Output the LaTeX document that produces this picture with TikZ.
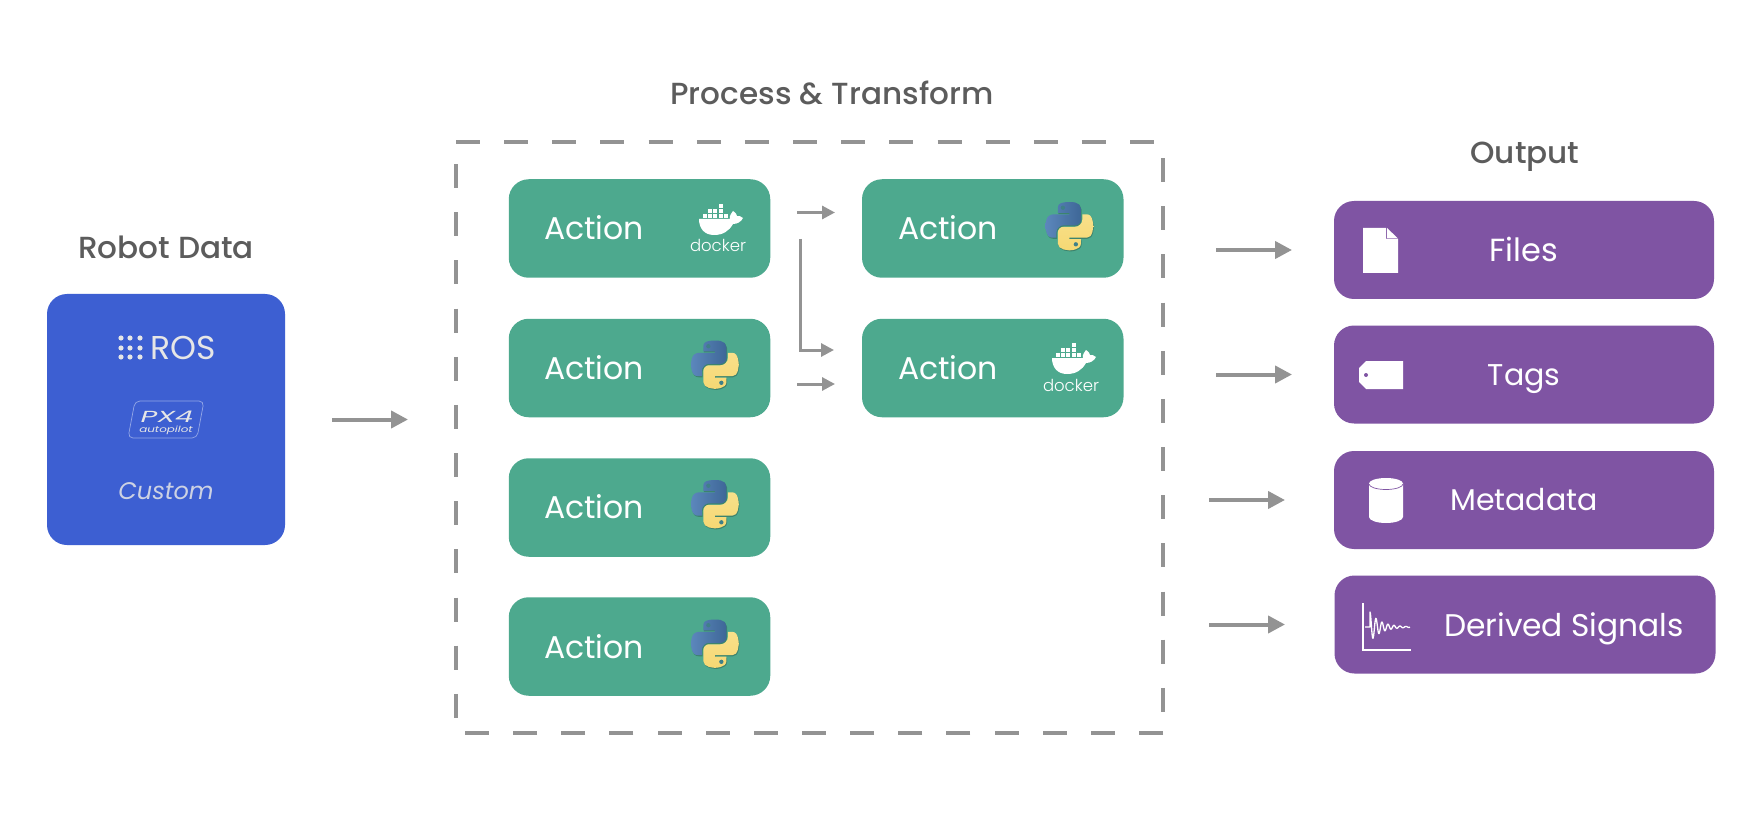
\documentclass[tikz,border=0pt]{standalone}
\usepackage{fontspec}
\usetikzlibrary{arrows.meta,calc,svg.path}
\setmainfont{Poppins}
\newfontfamily\titlefont{Poppins Medium}
\newfontfamily\lightfont{Poppins Light}
\definecolor{boxblue}{HTML}{3D5FD2}
\definecolor{boxgreen}{HTML}{4DA98E}
\definecolor{boxpurple}{HTML}{7F54A3}
\definecolor{linegray}{HTML}{939393}
\definecolor{titlegray}{HTML}{5C5C5C}
\definecolor{softwhite}{HTML}{E6E6E6}
\definecolor{pyblueA}{HTML}{5C87BC}
\definecolor{pyblueB}{HTML}{3E6797}
\definecolor{pyyelA}{HTML}{F6D873}
\definecolor{pyyelB}{HTML}{F8E08A}
\definecolor{pyeye}{HTML}{3F8088}
\tikzset{
  x=1pt,y=-1pt,
  panel/.style={rounded corners=20pt,inner sep=0pt,outer sep=0pt,minimum width=#1},
  actionbox/.style={panel=261.5pt,fill=boxgreen,minimum height=98.5pt},
  outbox/.style={panel=380pt,fill=boxpurple,minimum height=98pt},
  tlabel/.style={anchor=base,inner sep=0pt,text=white,font=\fontsize{30}{30}\selectfont},
  alabel/.style={anchor=base,inner sep=0pt,text=white,font=\fontsize{31.5}{32}\selectfont},
  head/.style={anchor=base,inner sep=0pt,text=titlegray,xscale=1.02,font=\fontsize{30.5}{31}\selectfont\titlefont},
  bigarrow/.style={draw=linegray,line width=4pt,-{Triangle[length=17pt,width=17pt]}},
  smallarrow/.style={draw=linegray,line width=3pt,-{Triangle[length=13pt,width=13pt]}},
  dashside/.style={draw=linegray,line width=4pt,dash pattern=on 24pt off 24.15pt,dash phase=#1},
  pylogo/.pic={
    \begin{scope}[yscale=-1]
      \fill[black,opacity=.22,shift={(1.5,-2.5)}] svg "M 54.92 0 C 50.34 0.02 45.96 0.41 42.11 1.09 30.76 3.1 28.7 7.29 28.7 15.03 v 10.22 h 26.81 v 3.41 h -26.81 -10.06 c -7.79 0 -14.62 4.68 -16.75 13.59 -2.46 10.21 -2.57 16.59 0 27.25 1.91 7.94 6.46 13.59 14.25 13.59 h 9.22 v -12.25 c 0 -8.85 7.66 -16.66 16.75 -16.66 h 26.78 c 7.45 0 13.41 -6.14 13.41 -13.63 v -25.53 c 0 -7.27 -6.13 -12.72 -13.41 -13.94 C 64.28 0.33 59.5 -0.02 54.92 0 Z";
      \fill[black,opacity=.22,shift={(1.5,-2.5)}] svg "M 85.64 28.66 v 11.91 c 0 9.23 -7.83 17 -16.75 17 h -26.78 c -7.34 0 -13.41 6.28 -13.41 13.63 v 25.53 c 0 7.27 6.32 11.54 13.41 13.63 8.49 2.5 16.63 2.95 26.78 0 6.75 -1.95 13.41 -5.89 13.41 -13.63 v -10.22 h -26.78 v -3.41 h 26.78 13.41 c 7.79 0 10.7 -5.44 13.41 -13.59 2.8 -8.4 2.68 -16.48 0 -27.25 -1.93 -7.76 -5.6 -13.59 -13.41 -13.59 Z";
      \path[left color=pyblueA,right color=pyblueB] svg "M 54.92 0 C 50.34 0.02 45.96 0.41 42.11 1.09 30.76 3.1 28.7 7.29 28.7 15.03 v 10.22 h 26.81 v 3.41 h -26.81 -10.06 c -7.79 0 -14.62 4.68 -16.75 13.59 -2.46 10.21 -2.57 16.59 0 27.25 1.91 7.94 6.46 13.59 14.25 13.59 h 9.22 v -12.25 c 0 -8.85 7.66 -16.66 16.75 -16.66 h 26.78 c 7.45 0 13.41 -6.14 13.41 -13.63 v -25.53 c 0 -7.27 -6.13 -12.72 -13.41 -13.94 C 64.28 0.33 59.5 -0.02 54.92 0 Z";
      \path[top color=pyyelB,bottom color=pyyelA] svg "M 85.64 28.66 v 11.91 c 0 9.23 -7.83 17 -16.75 17 h -26.78 c -7.34 0 -13.41 6.28 -13.41 13.63 v 25.53 c 0 7.27 6.32 11.54 13.41 13.63 8.49 2.5 16.63 2.95 26.78 0 6.75 -1.95 13.41 -5.89 13.41 -13.63 v -10.22 h -26.78 v -3.41 h 26.78 13.41 c 7.79 0 10.7 -5.44 13.41 -13.59 2.8 -8.4 2.68 -16.48 0 -27.25 -1.93 -7.76 -5.6 -13.59 -13.41 -13.59 Z";
      \fill[pyeye] (40.42pt,13.34pt) circle[radius=5.03pt];
      \fill[pyeye] (70.57pt,98.4pt) circle[radius=5.03pt];
    \end{scope}
  },
  dockerlogo/.pic={
    \foreach \bx/\by in {19/0, 8/5,13/5,19/5, 3/10,8/10,13/10,19/10,24/10}
      \fill[white] (\bx,\by) rectangle ++(4.2,4.2);
    \fill[white] (-1,15) -- (30,15) .. controls (29,11) and (32,9) .. (33,7) .. controls (36,9) and (37,11) .. (37,12) .. controls (39,11.5) and (41,12.5) .. (43,14) .. controls (41,18) and (37,20) .. (33,20) .. controls (29,27) and (23,31) .. (14,31) .. controls (4,31) and (-1,24) .. (-1,15) -- cycle;
    \node[anchor=base,inner sep=0pt,text=white,font=\fontsize{16.5}{17}\selectfont\lightfont] (word) at (18,48) {docker};
  }
}
\begin{document}
\begin{tikzpicture}
\useasboundingbox (0,0) rectangle (1764,834);
\fill[white] (0,0) rectangle (1764,834);
% titles
\node[head] (trobot) at (166,259) {Robot Data};
\node[head] (tproc) at (832,104.5) {Process \& Transform};
\node[head] (tout) at (1525,164) {Output};
% robot panel
\node[panel=238pt,fill=boxblue,minimum height=251pt] (robot) at (166,419.5) {};
\foreach \dx in {121,130,140} \foreach \dy in {338,348,357}
  \fill[softwhite] (\dx,\dy) circle[radius=2.6pt];
\node[anchor=base,inner sep=0pt,text=softwhite,font=\fontsize{33}{33}\selectfont] (ros) at (183,359) {ROS};
\draw[draw=boxblue!55!white,line width=.7pt,rounded corners=5pt] (135,401) -- (204,401) -- (197,438) -- (128,438) -- cycle;
\node[anchor=base,inner sep=0pt,text=softwhite,xscale=1.8,font=\fontsize{16}{16}\selectfont\itshape] (pxfour) at (167,422) {PX4};
\node[anchor=base,inner sep=0pt,text=softwhite,xscale=1.4,font=\fontsize{8.5}{9}\selectfont\itshape] (autop) at (166,432) {autopilot};
\node[anchor=base,inner sep=0pt,text=softwhite!85!boxblue,font=\fontsize{24}{24}\selectfont\itshape] (custom) at (166,499) {Custom};
% dashed frame
\node[inner sep=0pt,outer sep=0pt,minimum width=707pt,minimum height=591pt] (frame) at (809.5,437.5) {};
\draw[dashside=0pt] (frame.north west) -- (frame.north east);
\draw[dashside=32pt] (frame.north east) -- (frame.south east);
\draw[dashside=0pt] (frame.south east) -- (frame.south west);
\draw[dashside=26pt] (frame.north west) -- (frame.south west);
% actions
\node[actionbox] (a1) at (639.5,228.5) {};
\node[actionbox] (a2) at (639.5,368) {};
\node[actionbox] (a3) at (639.5,507.5) {};
\node[actionbox] (a4) at (639.5,646.5) {};
\node[actionbox] (b1) at (992.75,228.5) {};
\node[actionbox] (b2) at (992.75,368) {};
\node[alabel] (la1) at (594,240) {Action};
\node[alabel] (la2) at (594,379) {Action};
\node[alabel] (la3) at (594,518) {Action};
\node[alabel] (la4) at (594,658) {Action};
\node[alabel] (lb1) at (948,240) {Action};
\node[alabel] (lb2) at (948,379) {Action};
\pic[scale=.43] at (691,340.5) {pylogo};
\pic[scale=.43] at (691,480) {pylogo};
\pic[scale=.43] at (691,619.5) {pylogo};
\pic[scale=.43] at (1045.5,202) {pylogo};
\pic (dockerA) at (700,204) {dockerlogo};
\pic (dockerB) at (1053,343) {dockerlogo};
% outputs
\node[outbox] (files) at (1524,250) {};
\node[outbox] (tags) at (1524,374.5) {};
\node[outbox] (meta) at (1524,500) {};
\node[outbox,minimum width=381pt] (sig) at (1525,624.5) {};
\node[tlabel,font=\fontsize{32}{32}\selectfont] (lf) at (1524,262) {Files};
\node[tlabel] (lt) at (1524,385) {Tags};
\node[tlabel] (lm) at (1524,510) {Metadata};
\node[tlabel,font=\fontsize{31.3}{32}\selectfont] (ls) at (1564,636) {Derived Signals};
% icons
\fill[white] (1363,228) -- (1386,228) -- (1386,239) -- (1398,239) -- (1398,273) -- (1363,273) -- cycle;
\fill[white] (1387,228) -- (1398,238.5) -- (1387,238.5) -- cycle;
\fill[white] (1366,361) -- (1403,361) -- (1403,389) -- (1366,389) -- (1359,382) -- (1359,368) -- cycle;
\fill[boxpurple] (1366,375) circle[radius=2pt];
\fill[white] (1369,483.5) -- (1369,517) arc[start angle=180,end angle=360,x radius=17,y radius=-6] -- (1403,483.5) -- cycle;
\fill[white] (1386,483.5) ellipse[x radius=17,y radius=5.5];
\draw[boxpurple,line width=.7pt] (1369,484) arc[start angle=180,end angle=360,x radius=17,y radius=-5.5];
\draw[white,line width=1.4pt] (1363,603) -- (1363,650) -- (1411,650);
\draw[white,line width=1.3pt,line join=round] (1365,627) -- (1370,627) -- plot[smooth,samples=90,domain=0:40] ({1370+\x},{627-15*exp(-\x/11)*cos(deg(\x*2*pi/6))});
% connectors
\draw[bigarrow,shorten <=47pt,shorten >=48pt] (robot.east) -- (robot.east -| frame.west);
\draw[smallarrow,shorten <=27pt,shorten >=27pt] ($(a1.east)+(0,-16)$) -- ($(b1.west)+(0,-16)$);
\draw[smallarrow,shorten <=27pt,shorten >=27pt] ($(a2.east)+(0,16)$) -- ($(b2.west)+(0,16)$);
\coordinate (elbow) at (800,239);
\draw[smallarrow,shorten >=28pt] (elbow) |- ($(b2.west)+(0,-18)$);
\draw[bigarrow,shorten <=53pt,shorten >=42pt] (files.west -| frame.east) -- (files.west);
\draw[bigarrow,shorten <=53pt,shorten >=42pt] (tags.west -| frame.east) -- (tags.west);
\draw[bigarrow,shorten <=46pt,shorten >=49pt] (meta.west -| frame.east) -- (meta.west);
\draw[bigarrow,shorten <=46pt,shorten >=49.5pt] (sig.west -| frame.east) -- (sig.west);
\end{tikzpicture}
\end{document}
